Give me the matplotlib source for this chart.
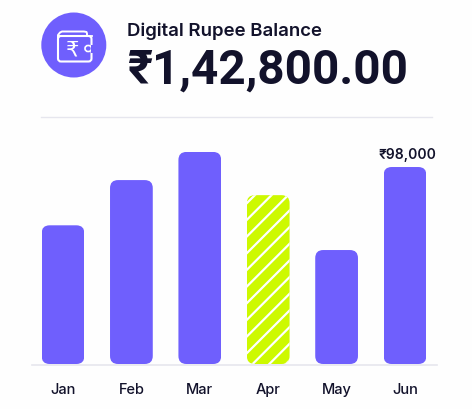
import matplotlib
matplotlib.use("Agg")
import matplotlib.pyplot as plt
from matplotlib.patches import Circle, FancyBboxPatch, Rectangle

# Datos
meses = ["Jan", "Feb", "Mar", "Apr", "May", "Jun"]
valores = [69000, 91500, 105500, 84000, 56700, 98000]
mes_destacado = "Apr"
etiqueta_jun = "₹98,000"
titulo = "Digital Rupee Balance"
saldo = "₹1,42,800.00"

MORADO = "#6f5ffd"
LIMA = "#cdf900"
TINTA = "#12122b"
GRIS = "#e6e6ee"

plt.rcParams["font.family"] = ["Inter", "DejaVu Sans"]
plt.rcParams["hatch.linewidth"] = 1.6

W, H = 472, 410
fig = plt.figure(figsize=(W / 100, H / 100), dpi=100, facecolor="#fefefe")

# Capa en pixeles para el encabezado y el icono
capa = fig.add_axes([0, 0, 1, 1])
capa.set_xlim(0, W)
capa.set_ylim(H, 0)
capa.axis("off")

capa.add_patch(Circle((73.8, 46), 32.5, color=MORADO, lw=0))
# cuerpo de la cartera y solapa superior
capa.add_patch(FancyBboxPatch((58, 37), 33.5, 25.5, boxstyle="round,pad=0,rounding_size=3",
                              fc="none", ec="white", lw=1.5))
capa.plot([58, 58, 60, 62, 84, 86.5, 87, 87], [44, 36, 33.5, 32.5, 32.5, 33, 34.5, 37],
          color="white", lw=1.4)
capa.add_patch(FancyBboxPatch((85, 46.5), 6.5, 6, boxstyle="round,pad=0,rounding_size=3",
                              fc=MORADO, ec="white", lw=1.2))
capa.add_patch(Rectangle((90.5, 45.5), 3, 8, fc=MORADO, ec="none"))
capa.plot([58, 91.5], [37, 37], color="white", lw=1.3)
capa.text(72.5, 49.5, "₹", color="white", fontsize=15, ha="center", va="center",
          family="DejaVu Sans")

capa.text(127, 31, titulo, color=TINTA, fontsize=13.4, weight="semibold", va="center")
capa.text(127, 71, saldo, color=TINTA, fontsize=34.3, weight="bold", va="center",
          family=["Roboto", "DejaVu Sans"])
capa.plot([41, 432], [118, 118], color=GRIS, lw=1)
capa.plot([32, 437], [365.5, 365.5], color=GRIS, lw=1.2)

# Ejes de las barras: 68.4 px por categoria, 497.5 unidades por pixel
PX_X = 68.4
PX_Y = 1 / 497.5
izq = 63 - 0.5 * PX_X
ancho_px = 6 * PX_X
alto_px = 240
ax = fig.add_axes([izq / W, (H - 365) / H, ancho_px / W, alto_px / H])
ax.set_xlim(-0.5, 5.5)
ax.set_ylim(0, alto_px / PX_Y)
ax.patch.set_alpha(0)
for lado in ax.spines.values():
    lado.set_visible(False)
ax.tick_params(length=0, pad=13, labelsize=10.5, labelcolor=TINTA)
ax.set_yticks([])
ax.set_xticks(range(len(meses)), meses)
for t in ax.get_xticklabels():
    t.set_weight("medium")

barras = ax.bar(meses, valores, width=0.625, color=MORADO, linewidth=0)

# Esquinas redondeadas recortando cada barra
radio_x = 8 / PX_X
aspecto = (1 / PX_Y) * PX_X
for mes, barra in zip(meses, barras):
    x, y = barra.get_xy()
    redondo = FancyBboxPatch((x, y), barra.get_width(), barra.get_height(),
                             boxstyle=f"round,pad=0,rounding_size={radio_x}",
                             mutation_aspect=aspecto, transform=ax.transData,
                             fc="none", ec="none")
    ax.add_patch(redondo)
    barra.set_clip_path(redondo)
    if mes == mes_destacado:
        barra.set_facecolor(LIMA)
        barra.set_edgecolor("white")
        barra.set_hatch("//")

ax.annotate(etiqueta_jun, (5, valores[5]), xytext=(2, 6), textcoords="offset pixels",
            ha="center", va="bottom", fontsize=10, color=TINTA, weight="semibold")

fig.savefig("out.png", dpi=100, facecolor=fig.get_facecolor())
